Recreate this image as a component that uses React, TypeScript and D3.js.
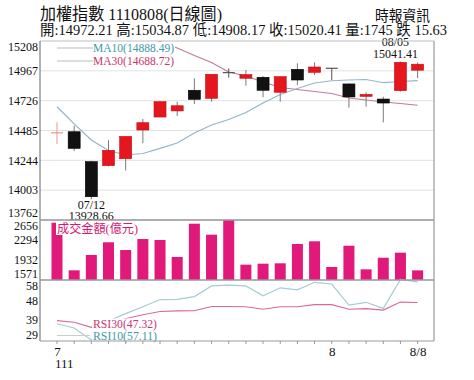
import React from "react";
import * as d3 from "d3";

const dates = ["07/08","07/11","07/12","07/13","07/14","07/15","07/18","07/19","07/20","07/21","07/22","07/25","07/26","07/27","07/28","07/29","08/01","08/02","08/03","08/04","08/05","08/08"];
const opens = [14465,14475,14233,14201,14257,14489,14594,14643,14810,14745,14955,14907,14915,14794,14979,14955,14988,14861,14761,14739,14807,14972.21];
const highs = [14551,14524,14240,14406,14440,14578,14720,14718,14907,14940,14987,14974,14925,14920,15028,15036,14990,14866,14794,14758,15041.41,15034.87];
const lows = [14376,14319,13928.66,14195,14162,14382,14590,14602,14699,14718,14912,14847,14753,14718,14853,14933,14893,14669,14677,14551,14800,14908.17];
const closes = [14468,14341,13950,14325,14437,14548,14718,14685,14737,14939,14950,14936,14810,14920,14893,14998,14987,14756,14777,14707,15036.04,15020.41];
const ma10 = [14677,14538,14408,14323,14287,14299,14341,14384,14465,14529,14574,14630,14707,14776,14824,14869,14887,14893,14897,14871,14881,14888.49];
const ma30 = [15543,15487,15430,15374,15317,15260,15204,15151,15091,15034,14958,14925,14877,14832,14816,14800,14784,14748,14731,14715,14703,14688.72];
const volumes = [2607,1746,2023,2253,2113,2312,2294,1987,2589,2390,2656,1848,1866,1873,2222,2271,1806,2191,1764,1974,2065,1745];
const rsi10 = [37.2,35.2,29.5,38.5,42.0,45.3,48.7,48.8,50.1,55.2,55.6,55.2,50.5,54.3,53.3,56.9,56.1,46.1,47.4,44.5,58.3,57.11];
const rsi30 = [38.7,37.9,35.5,38.0,39.6,41.5,43.0,43.3,43.4,45.4,45.4,45.3,44.1,45.3,45.3,46.3,46.3,44.1,44.4,43.7,47.5,47.32];
const priceTicks = [15208,14967,14726,14485,14244,14003,13762];
const volTicks = [2656,2294,1932,1571];
const rsiTicks = [58,48,39,29];
const xLabels = [{ d: "07/08", t: ["7", "111"] }, { d: "08/01", t: ["8"] }, { d: "08/08", t: ["8/8"] }];

const title = "加權指數 1110808(日線圖)";
const source = "時報資訊";
const info = "開:14972.21 高:15034.87 低:14908.17 收:15020.41 量:1745 跌 15.63";

const SERIF = "'Liberation Serif', 'Noto Sans CJK TC', serif";

export default function App() {
  const L = 40, R = 434;
  const mainTop = 41, mainBot = 220, volBot = 280, rsiBot = 341;
  const x = d3.scaleBand<string>().domain(dates).range([48.4, 426.2]).padding(0);
  const cx = (d: string) => (x(d) as number) + x.bandwidth() / 2;
  const y = d3.scaleLinear().domain([13762, 15208]).range([mainBot, mainTop]);
  const yv = d3.scaleLinear().domain([1571, 2656]).range([volBot, mainBot]);
  const yr = d3.scaleLinear().domain([29, 58]).range([rsiBot, volBot]);
  const bodyW = 12, volW = 11;

  const lineP = (arr: number[]) => d3.line<number>().x((_, i) => cx(dates[i])).y((v) => y(v))(arr) || "";
  const lineR = (arr: number[]) => d3.line<number>().x((_, i) => cx(dates[i])).y((v) => yr(v))(arr) || "";
  const clamp = (v: number, a: number, b: number) => Math.max(a, Math.min(b, v));

  const lowIdx = lows.indexOf(d3.min(lows) as number);
  const highIdx = highs.indexOf(d3.max(highs) as number);

  return (
    <svg width={474} height={380} style={{ position: "absolute", left: 0, top: 0, background: "#fff" }} fontFamily={SERIF}>
      <defs>
        <clipPath id="mainClip"><rect x={L} y={mainTop} width={R - L} height={mainBot - mainTop} /></clipPath>
        <clipPath id="rsiClip"><rect x={L} y={volBot - 2} width={R - L} height={rsiBot - volBot + 2} /></clipPath>
      </defs>
      <rect x={0} y={0} width={474} height={380} fill="#fff" />
      {/* header */}
      <text x={40} y={20} fontSize={17} textLength={182} lengthAdjust="spacingAndGlyphs" fill="#111">{title}</text>
      <text x={375} y={21} fontSize={15} textLength={55} lengthAdjust="spacingAndGlyphs" fill="#111">{source}</text>
      <text x={40} y={35} fontSize={14.5} textLength={407} lengthAdjust="spacingAndGlyphs" fill="#111">{info}</text>

      {/* grid main */}
      {priceTicks.map((t) => (
        <line key={"g" + t} x1={L} x2={R} y1={y(t)} y2={y(t)} stroke="#e2e2e2" strokeWidth={1} />
      ))}
      {priceTicks.map((t) => (
        <text key={"pl" + t} x={38} y={clamp(y(t), mainTop + 6, mainBot - 7)} dy="0.35em" fontSize={12} textAnchor="end" fill="#111">{t}</text>
      ))}

      {/* MA lines */}
      <g clipPath="url(#mainClip)">
        <path d={lineP(ma30)} fill="none" stroke="#c47a95" strokeWidth={1.1} />
        <path d={lineP(ma10)} fill="none" stroke="#93b6c9" strokeWidth={1.2} />
      </g>

      {/* candles */}
      {dates.map((d, i) => {
        const o = opens[i], c = closes[i], h = highs[i], l = lows[i];
        const up = c >= o;
        const col = up ? "#e5161d" : "#111";
        const top = y(Math.max(o, c)), bot = y(Math.min(o, c));
        const hgt = bot - top;
        const xc = cx(d);
        return (
          <g key={"c" + d}>
            <line x1={xc} x2={xc} y1={y(h)} y2={y(l)} stroke={hgt < 1.5 ? (up ? "#e79a8a" : "#555") : "#7a7a7a"} strokeWidth={1} />
            {hgt < 1.5 ? (
              <line x1={xc - bodyW / 2} x2={xc + bodyW / 2} y1={(top + bot) / 2} y2={(top + bot) / 2} stroke={up ? "#e79a8a" : "#555"} strokeWidth={1.2} />
            ) : (
              <rect x={xc - bodyW / 2} y={top} width={bodyW} height={hgt} fill={col} stroke={up ? "#c01015" : "#000"} strokeWidth={0.6} />
            )}
          </g>
        );
      })}

      {/* MA legend */}
      <rect x={55} y={42} width={120} height={26} fill="#fff" />
      <line x1={57} x2={93} y1={48} y2={48} stroke="#bbb" />
      <line x1={57} x2={93} y1={61} y2={61} stroke="#bbb" />
      <text x={93} y={52} fontSize={12} textLength={81} lengthAdjust="spacingAndGlyphs" fill="#3e9aa8">MA10({ma10[ma10.length - 1].toFixed(2)})</text>
      <text x={93} y={65} fontSize={12} textLength={81} lengthAdjust="spacingAndGlyphs" fill="#c8366e">MA30({ma30[ma30.length - 1].toFixed(2)})</text>

      {/* low / high labels */}
      <text x={cx(dates[lowIdx])} y={209} fontSize={12} textAnchor="middle" fill="#111">{dates[lowIdx]}</text>
      <text x={cx(dates[lowIdx])} y={220} fontSize={12} textAnchor="middle" fill="#111">{lows[lowIdx].toFixed(2)}</text>
      <text x={cx(dates[highIdx]) - 5} y={46} fontSize={12} textAnchor="middle" fill="#111">{dates[highIdx]}</text>
      <text x={cx(dates[highIdx]) - 5} y={58} fontSize={12} textAnchor="middle" fill="#111">{highs[highIdx].toFixed(2)}</text>

      {/* volume */}
      {dates.map((d, i) => (
        <rect key={"v" + d} x={cx(d) - volW / 2} y={yv(volumes[i])} width={volW} height={volBot - yv(volumes[i])} fill="#e0197b" />
      ))}
      <rect x={56} y={222} width={84} height={13} fill="#fff" />
      <text x={57} y={232.5} fontSize={12.5} textLength={81} lengthAdjust="spacingAndGlyphs" fill="#d81b72">成交金額(億元)</text>
      {volTicks.map((t) => (
        <text key={"vl" + t} x={38} y={clamp(yv(t), mainBot + 6, volBot - 6)} dy="0.35em" fontSize={12} textAnchor="end" fill="#111">{t}</text>
      ))}

      {/* RSI */}
      <g clipPath="url(#rsiClip)">
        <path d={lineR(rsi30)} fill="none" stroke="#d9699a" strokeWidth={1.1} />
        <path d={lineR(rsi10)} fill="none" stroke="#a6cdd2" strokeWidth={1.2} />
      </g>
      <rect x={92} y={318.5} width={66} height={22} fill="#fff" />
      <line x1={57} x2={90} y1={335.5} y2={335.5} stroke="#ccc" />
      <text x={93} y={328} fontSize={12} textLength={64} lengthAdjust="spacingAndGlyphs" fill="#c8366e">RSI30({rsi30[rsi30.length - 1].toFixed(2)})</text>
      <text x={93} y={340} fontSize={12} textLength={64} lengthAdjust="spacingAndGlyphs" fill="#3e9aa8">RSI10({rsi10[rsi10.length - 1].toFixed(2)})</text>
      {rsiTicks.map((t) => (
        <text key={"rl" + t} x={38} y={clamp(yr(t), volBot + 6, rsiBot - 6)} dy="0.35em" fontSize={12} textAnchor="end" fill="#111">{t}</text>
      ))}

      {/* frame */}
      <line x1={L} x2={R} y1={mainTop} y2={mainTop} stroke="#ccc" />
      <line x1={R} x2={R} y1={mainTop} y2={rsiBot} stroke="#999" strokeWidth={1.2} />
      <line x1={L} x2={L} y1={mainTop} y2={rsiBot} stroke="#666" strokeWidth={1} />
      <line x1={L} x2={R} y1={mainBot} y2={mainBot} stroke="#999" strokeWidth={1.5} />
      <line x1={L} x2={R} y1={volBot} y2={volBot} stroke="#999" strokeWidth={1.5} />
      <line x1={L} x2={R} y1={rsiBot} y2={rsiBot} stroke="#999" strokeWidth={1.2} />
      {dates.map((d) => (
        <line key={"t" + d} x1={cx(d)} x2={cx(d)} y1={rsiBot} y2={rsiBot + 3} stroke="#999" />
      ))}
      {xLabels.map((xl) => (
        <g key={"xl" + xl.d}>
          {xl.t.map((s, j) => (
            <text key={s} x={j === 1 ? cx(xl.d) - 2 : cx(xl.d) + 0.5} y={356 + j * 12} fontSize={13} textAnchor={j === 1 ? "start" : "middle"} fill="#111">{s}</text>
          ))}
        </g>
      ))}
    </svg>
  );
}
